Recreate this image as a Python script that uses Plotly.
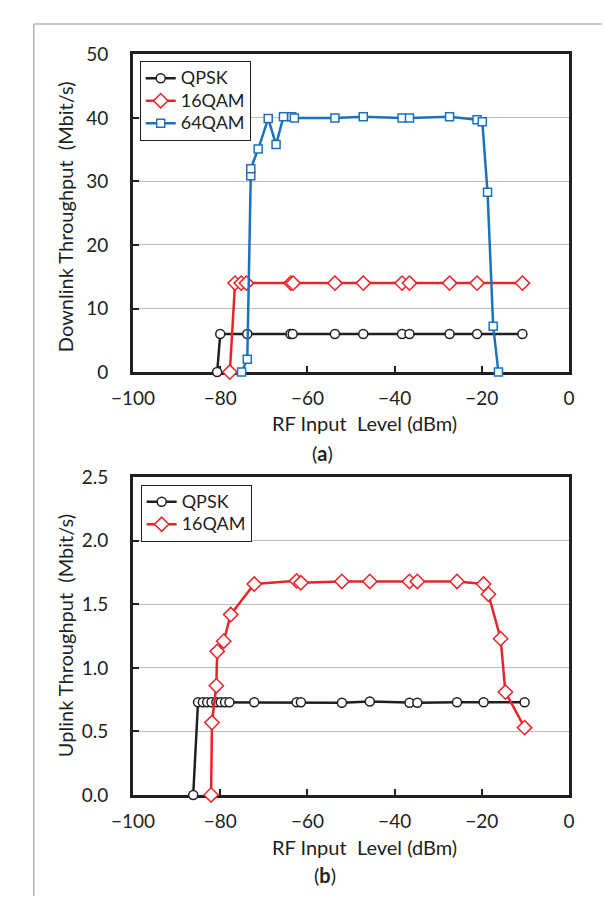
import plotly.graph_objects as go

# (a) downlink throughput vs RF input level
dl_qpsk_x = [-80.7, -80.0, -73.8, -63.9, -63.4, -53.7, -47.2, -38.3, -36.6, -27.4, -21.1, -10.7]
dl_qpsk_y = [0, 6.0, 6.0, 6.0, 6.0, 6.0, 6.0, 6.0, 6.0, 6.0, 6.0, 6.0]

dl_16qam_x = [-77.8, -76.6, -75.2, -74.0, -63.8, -63.3, -53.7, -47.2, -38.3, -36.6, -27.4, -21.1, -10.7]
dl_16qam_y = [0, 14.0, 14.0, 14.0, 14.0, 14.0, 14.0, 14.0, 14.0, 14.0, 14.0, 14.0, 14.0]

dl_64qam_x = [-75.1, -73.8, -73.0, -73.0, -71.3, -69.0, -67.2, -65.5, -63.6, -63.0, -53.7, -47.2,
              -38.3, -36.6, -27.4, -21.1, -19.9, -18.7, -17.4, -16.2]
dl_64qam_y = [0, 2.0, 30.9, 32.0, 35.1, 39.9, 35.8, 40.2, 40.2, 40.0, 40.0, 40.2,
              40.0, 40.0, 40.2, 39.7, 39.4, 28.3, 7.2, 0]

# (b) uplink throughput vs RF input level
ul_qpsk_x = [-86.2, -85.1, -84.0, -83.0, -82.0, -80.9, -79.9, -78.9, -77.9, -72.2, -62.5, -61.5,
             -52.1, -45.7, -36.6, -34.8, -25.7, -19.6, -10.2]
ul_qpsk_y = [0, 0.73, 0.73, 0.73, 0.73, 0.73, 0.73, 0.73, 0.73, 0.73, 0.73, 0.73,
             0.725, 0.735, 0.725, 0.725, 0.73, 0.73, 0.73]

ul_16qam_x = [-82.1, -81.9, -80.9, -80.7, -79.2, -77.6, -72.2, -62.5, -61.5, -52.1, -45.7, -36.6,
              -34.8, -25.7, -19.6, -18.5, -15.7, -14.6, -10.2]
ul_16qam_y = [0, 0.57, 0.86, 1.13, 1.21, 1.42, 1.66, 1.685, 1.67, 1.68, 1.68, 1.68,
              1.68, 1.68, 1.66, 1.58, 1.23, 0.81, 0.53]

x_ticks = [-100, -80, -60, -40, -20, 0]
dl_ticks = [0, 10, 20, 30, 40, 50]
ul_ticks = [0, 0.5, 1.0, 1.5, 2.0, 2.5]

W, H = 610, 899
OFF = 8  # the page body adds an 8px margin, so positions are shifted back by that much
FONT = "Lato, 'Noto Sans', sans-serif"
INK = "#231f20"
BLACK = "#231f20"
RED = "#e8242a"
BLUE = "#1d71bb"


def px(x):
    return (x - OFF) / W


def py(y):
    return 1 - (y - OFF) / H


def big(name):
    # legend rows are spaced by the legend font size, so the text itself is set a bit larger
    return f"<span style='font-size:18px'>{name}</span>"


def series(x, y, name, color, symbol, size, xa, ya, legend):
    return go.Scatter(
        x=x, y=y, name=big(name), mode="lines+markers",
        line=dict(color=color, width=2.5),
        marker=dict(symbol=symbol, size=size, color="white",
                    line=dict(color=color, width=1.5)),
        xaxis=xa, yaxis=ya, legend=legend, cliponaxis=False,
    )


fig = go.Figure()
fig.add_trace(series(dl_qpsk_x, dl_qpsk_y, "QPSK", BLACK, "circle", 9, "x", "y", "legend"))
fig.add_trace(series(dl_16qam_x, dl_16qam_y, "16QAM", RED, "diamond", 11, "x", "y", "legend"))
fig.add_trace(series(dl_64qam_x, dl_64qam_y, "64QAM", BLUE, "square", 8, "x", "y", "legend"))
fig.add_trace(series(ul_qpsk_x, ul_qpsk_y, "QPSK", BLACK, "circle", 9, "x2", "y2", "legend2"))
fig.add_trace(series(ul_16qam_x, ul_16qam_y, "16QAM", RED, "diamond", 11, "x2", "y2", "legend2"))

x_dom = [px(116), px(573)]

axis_common = dict(
    showline=True, linecolor=INK, linewidth=3, mirror=True,
    ticks="inside", ticklen=6, tickwidth=1.5, tickcolor=INK,
    tickfont=dict(family=FONT, size=19, color=INK),
    zeroline=False, layer="below traces",
)

legend_common = dict(
    xanchor="left", yanchor="top", bgcolor="white", bordercolor=INK, borderwidth=1,
    font=dict(family=FONT, size=15, color=INK), tracegroupgap=0,
)

fig.update_layout(
    width=W, height=H,
    margin=dict(l=0, r=0, t=0, b=0),
    paper_bgcolor="white", plot_bgcolor="white",
    font=dict(family=FONT, color=INK),
    xaxis=dict(domain=x_dom, anchor="y", range=[-100, 0], tickvals=x_ticks,
               showgrid=False, ticklabelstandoff=7, **axis_common),
    yaxis=dict(domain=[py(369.3), py(43.3)], anchor="x", range=[0, 50], tickvals=dl_ticks,
               showgrid=True, gridcolor="#bdbdbd", gridwidth=1.2, ticklabelstandoff=18,
               **axis_common),
    xaxis2=dict(domain=x_dom, anchor="y2", range=[-100, 0], tickvals=x_ticks,
                showgrid=False, ticklabelstandoff=7, **axis_common),
    yaxis2=dict(domain=[py(803.3), py(477.3)], anchor="x2", range=[0, 2.5], tickvals=ul_ticks,
                tickformat=".1f", showgrid=True, gridcolor="#bdbdbd", gridwidth=1.2,
                ticklabelstandoff=18, **axis_common),
    legend=dict(x=px(123), y=py(50), **legend_common),
    legend2=dict(x=px(124), y=py(484.7), **legend_common),
)

# axis titles and panel labels
labels = [
    ("RF Input\u00a0 Level (dBm)", 359, 422, 0),
    ("RF Input\u00a0 Level (dBm)", 359, 857, 0),
    ("(<b>a</b>)", 315, 452, 0),
    ("(<b>b</b>)", 317, 885, 0),
    ("Downlink Throughput\u00a0 (Mbit/s)", 45, 210, -90),
    ("Uplink Throughput\u00a0 (Mbit/s)", 45, 640, -90),
]
for text, x, y, ang in labels:
    fig.add_annotation(text=text, x=px(x), y=py(y), xref="paper", yref="paper",
                       xanchor="center", yanchor="middle", showarrow=False, textangle=ang,
                       font=dict(family=FONT, size=20, color=INK))

# light frame around the figure
fig.add_shape(type="line", xref="paper", yref="paper", x0=px(12), x1=1, y0=py(12), y1=py(12),
              line=dict(color="#b4b4b4", width=1.5))
fig.add_shape(type="line", xref="paper", yref="paper", x0=px(12), x1=px(12), y0=py(12), y1=0,
              line=dict(color="#b4b4b4", width=1.5))

fig.write_html("out.html")
